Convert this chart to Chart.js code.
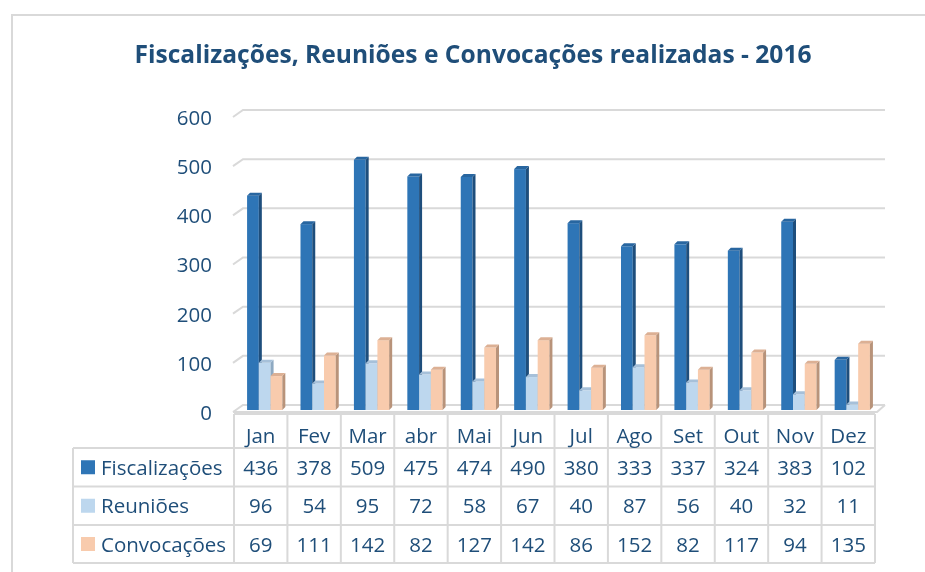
<!DOCTYPE html>
<html><head><meta charset="utf-8">
<script src="https://cdn.jsdelivr.net/npm/chart.js@4.4.1/dist/chart.umd.min.js"></script>
<style>html,body{margin:0;padding:0;background:#fff;overflow:hidden}canvas{display:block}</style>
</head><body>
<canvas id="c" width="925" height="572"></canvas>
<script>
const titleText = 'Fiscalizações, Reuniões e Convocações realizadas - 2016';
const months = ['Jan','Fev','Mar','abr','Mai','Jun','Jul','Ago','Set','Out','Nov','Dez'];
const fiscalizacoes = [436,378,509,475,474,490,380,333,337,324,383,102];
const reunioes = [96,54,95,72,58,67,40,87,56,40,32,11];
const convocacoes = [69,111,142,82,127,142,86,152,82,117,94,135];
const seriesNames = ['Fiscalizações','Reuniões','Convocações'];
const yTicks = [0,100,200,300,400,500,600];

const FONT = '"Open Sans", sans-serif';
const TEXT = '#1F4E79';
const GRID = '#D9D9D9';
const faces = [
  {front:'#2E75B6', side:'#1E4E7C', top:'#2866A0'},
  {front:'#BDD7EE', side:'#8EA9C2', top:'#A6C0D9'},
  {front:'#F8CBAD', side:'#B8937A', top:'#DCB094'}
];
const D = 3, SHIFT = 4;

const threeD = {
  id: 'threeD',
  beforeDraw(chart) {
    const ctx = chart.ctx;
    ctx.save();
    ctx.fillStyle = '#fff';
    ctx.fillRect(0, 0, chart.width, chart.height);
    ctx.strokeStyle = GRID; ctx.lineWidth = 2;
    ctx.beginPath(); ctx.moveTo(12, 572); ctx.lineTo(12, 15); ctx.lineTo(925, 15); ctx.stroke();
    ctx.fillStyle = TEXT;
    ctx.font = `bold 25px ${FONT}`;
    ctx.textAlign = 'center'; ctx.textBaseline = 'alphabetic';
    ctx.fillText(titleText, 473, 63, 677);
    ctx.restore();
  },
  beforeDatasetsDraw(chart) {
    const {ctx, chartArea: a, scales: {y}} = chart;
    ctx.save();
    ctx.strokeStyle = GRID; ctx.lineWidth = 2;
    yTicks.forEach(v => {
      const py = y.getPixelForValue(v);
      ctx.beginPath(); ctx.moveTo(a.left - 1, py + 2); ctx.lineTo(a.left + 9, py - 5); ctx.lineTo(a.right + 10, py - 5); ctx.stroke();
    });
    const p0 = y.getPixelForValue(0);
    ctx.beginPath(); ctx.moveTo(a.left - 1, p0 + 2); ctx.lineTo(a.right + 2, p0 + 2); ctx.lineTo(a.right + 10, p0 - 5); ctx.stroke();
    const metas = [0,1,2].map(i => chart.getDatasetMeta(i));
    for (let i = 0; i < months.length; i++) {
      for (let d = 0; d < 3; d++) {
        const el = metas[d].data[i];
        const {x, y: top, base, width} = el.getProps(['x','y','base','width'], true);
        const l = x - width / 2 + SHIFT, r = x + width / 2 + SHIFT;
        ctx.fillStyle = faces[d].front; ctx.fillRect(l, top, r - l, base - top);
        ctx.fillStyle = faces[d].side;
        ctx.beginPath(); ctx.moveTo(r, base); ctx.lineTo(r + D, base - D); ctx.lineTo(r + D, top - D); ctx.lineTo(r, top); ctx.closePath(); ctx.fill();
        ctx.fillStyle = faces[d].top;
        ctx.beginPath(); ctx.moveTo(l, top); ctx.lineTo(l + D, top - D); ctx.lineTo(r + D, top - D); ctx.lineTo(r, top); ctx.closePath(); ctx.fill();
      }
    }
    ctx.restore();
    return false;
  },
  afterDraw(chart) {
    const {ctx, chartArea: a, scales: {x}} = chart;
    const colW = (a.right - a.left) / months.length;
    const rowsY = [414, 448, 486.5, 525, 563];
    const labelLeft = 73;
    ctx.save();
    ctx.strokeStyle = GRID; ctx.lineWidth = 2;
    ctx.beginPath();
    ctx.moveTo(a.left, rowsY[0]); ctx.lineTo(a.right, rowsY[0]);
    for (let r = 1; r < rowsY.length; r++) { ctx.moveTo(labelLeft, rowsY[r]); ctx.lineTo(a.right, rowsY[r]); }
    for (let k = 0; k <= months.length; k++) { const px = a.left + k * colW; ctx.moveTo(px, rowsY[0]); ctx.lineTo(px, rowsY[4]); }
    ctx.moveTo(labelLeft, rowsY[1]); ctx.lineTo(labelLeft, rowsY[4]);
    ctx.stroke();
    ctx.font = `20.5px ${FONT}`;
    ctx.fillStyle = TEXT; ctx.textBaseline = 'alphabetic'; ctx.textAlign = 'center';
    const baselines = [443, 475, 513, 552];
    const series = [fiscalizacoes, reunioes, convocacoes];
    months.forEach((m, i) => {
      const cx = x.getPixelForValue(i);
      ctx.fillText(m, cx, baselines[0]);
      series.forEach((s, d) => ctx.fillText(String(s[i]), cx, baselines[d + 1]));
    });
    ctx.textAlign = 'left';
    seriesNames.forEach((n, d) => {
      const cy = (rowsY[d + 1] + rowsY[d + 2]) / 2;
      ctx.fillStyle = faces[d].front; ctx.fillRect(81, cy - 7, 14, 14);
      ctx.fillStyle = TEXT; ctx.fillText(n, 101, baselines[d + 1]);
    });
    ctx.restore();
  }
};

new Chart(document.getElementById('c'), {
  type: 'bar',
  data: {
    labels: months,
    datasets: [
      {label: seriesNames[0], data: fiscalizacoes, backgroundColor: faces[0].front},
      {label: seriesNames[1], data: reunioes, backgroundColor: faces[1].front},
      {label: seriesNames[2], data: convocacoes, backgroundColor: faces[2].front}
    ]
  },
  options: {
    responsive: false, animation: false,
    layout: {padding: {top: 115, left: 0, right: 50, bottom: 162}},
    datasets: {bar: {categoryPercentage: 0.66, barPercentage: 1.0}},
    plugins: {legend: {display: false}, title: {display: false}, tooltip: {enabled: false}},
    scales: {
      x: {display: false, offset: true},
      y: {
        min: 0, max: 600,
        afterFit(s) { s.width = 234; },
        border: {display: false},
        grid: {display: false, drawTicks: false},
        ticks: {stepSize: 100, padding: 22, labelOffset: 4, color: TEXT, font: {family: FONT, size: 20.5}}
      }
    }
  },
  plugins: [threeD]
});
</script>
</body></html>
